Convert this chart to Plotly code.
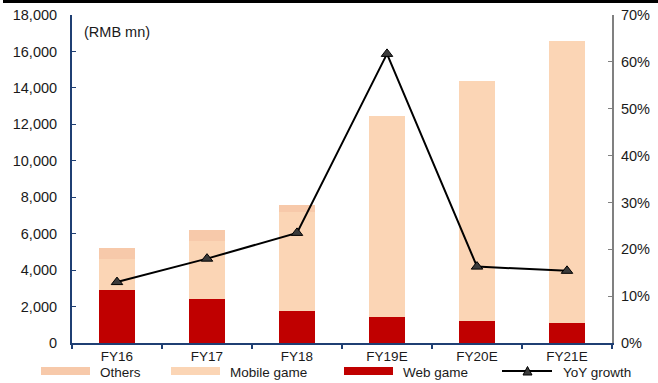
import plotly.graph_objects as go

# Revenue breakdown (RMB mn) and year-over-year growth
categories = ["FY16", "FY17", "FY18", "FY19E", "FY20E", "FY21E"]
web_game = [2900, 2400, 1750, 1400, 1200, 1100]
mobile_game = [1700, 3180, 5450, 11060, 13200, 15500]
others = [600, 620, 400, 0, 0, 0]
yoy_growth = [0.13, 0.18, 0.235, 0.617, 0.163, 0.154]

left_ticks = list(range(0, 18001, 2000))
right_ticks = [i / 10 for i in range(0, 8)]

C_WEB = "#C00000"
C_MOBILE = "#FBD5B5"
C_OTHERS = "#F7C9AA"
NAVY = "#1F3F73"
FONT = "Liberation Sans, Arial, sans-serif"
FSIZE = 14.5
FSMALL = 13.5

W, H = 658, 383
ML, MR, MT, MB = 72, 46, 15, 40
PW, PH = W - ML - MR, H - MT - MB


def px_x(p):
    return (p - ML) / PW


def px_y(p):
    return (H - MB - p) / PH


fig = go.Figure()

for name, vals, col in [("Web game", web_game, C_WEB),
                        ("Mobile game", mobile_game, C_MOBILE),
                        ("Others", others, C_OTHERS)]:
    fig.add_trace(go.Bar(x=categories, y=vals, name=name,
                         marker=dict(color=col, line=dict(width=0)), width=0.4))

fig.add_trace(go.Scatter(x=categories, y=yoy_growth, yaxis="y2", mode="lines+markers",
                         name="YoY growth", line=dict(color="black", width=2),
                         marker=dict(symbol="triangle-up", size=10, color="#3A3A3A",
                                     line=dict(color="black", width=1))))

# bottom legend: wide swatches, a line with a triangle, and labels
legend_y = px_y(372)
shapes = []
annotations = []
for label, col, x0 in [("Others", C_OTHERS, 41), ("Mobile game", C_MOBILE, 171), ("Web game", C_WEB, 344)]:
    shapes.append(dict(type="rect", xref="paper", yref="paper", x0=px_x(x0), x1=px_x(x0 + 49),
                       y0=px_y(375), y1=px_y(367), fillcolor=col, line=dict(width=0)))
    annotations.append(dict(text=label, xref="paper", yref="paper", x=px_x(x0 + 57), y=legend_y,
                            xanchor="left", yanchor="middle", showarrow=False,
                            font=dict(size=FSMALL)))
shapes.append(dict(type="line", xref="paper", yref="paper", x0=px_x(502), x1=px_x(552),
                   y0=px_y(371), y1=px_y(371), line=dict(color="black", width=2)))
tx, ty = 527.5, 371
shapes.append(dict(type="path", xref="paper", yref="paper",
                   path=f"M {px_x(tx - 4.5)} {px_y(ty + 4)} L {px_x(tx + 4.5)} {px_y(ty + 4)} "
                        f"L {px_x(tx)} {px_y(ty - 4.5)} Z",
                   fillcolor="#3A3A3A", line=dict(color="black", width=1)))
annotations.append(dict(text="YoY growth", xref="paper", yref="paper", x=px_x(561), y=legend_y,
                        xanchor="left", yanchor="middle", showarrow=False,
                        font=dict(size=FSMALL)))

annotations.append(dict(text="(RMB mn)", xref="paper", yref="paper", x=px_x(82), y=px_y(32),
                        xanchor="left", yanchor="middle", showarrow=False))
# rule across the top of the figure
shapes.append(dict(type="line", xref="paper", yref="paper", x0=px_x(3), x1=px_x(660),
                   y0=px_y(1.5), y1=px_y(1.5), line=dict(color="black", width=3)))

fig.update_layout(
    width=W, height=H,
    margin=dict(l=ML, r=MR, t=MT, b=MB, autoexpand=False),
    paper_bgcolor="white", plot_bgcolor="white",
    font=dict(family=FONT, size=FSIZE, color="#1A1A1A"),
    barmode="stack", showlegend=False,
    xaxis=dict(showline=True, linecolor=NAVY, linewidth=2, ticks="outside", tickson="boundaries",
               ticklen=4, tickcolor=NAVY, tickwidth=1.5, showgrid=False, zeroline=False,
               tickfont=dict(size=FSMALL), ticklabelstandoff=0),
    yaxis=dict(range=[0, 18000], tickvals=left_ticks, tickformat=",d", showline=True,
               linecolor=NAVY, linewidth=2, ticks="inside", ticklen=4, tickcolor=NAVY,
               showgrid=False, zeroline=False, ticklabelstandoff=10),
    yaxis2=dict(range=[0, 0.7], tickvals=right_ticks, tickformat=".0%", overlaying="y", side="right",
                showline=True, linecolor="#808080", linewidth=2, ticks="inside", ticklen=4,
                tickcolor="#808080", showgrid=False, zeroline=False, ticklabelstandoff=4),
    annotations=annotations,
    shapes=shapes,
)

fig.write_html("out.html")
